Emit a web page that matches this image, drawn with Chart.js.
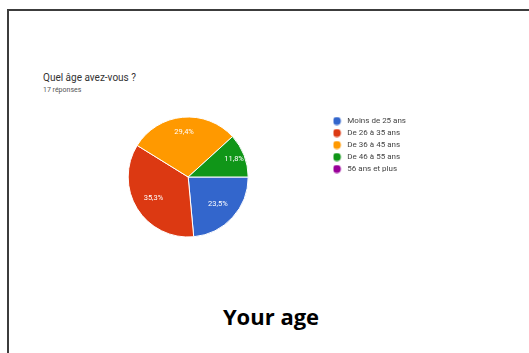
<!DOCTYPE html>
<html lang="fr">
<head>
    <meta charset="UTF-8">
    <title>Quel âge avez-vous ?</title>
    <script src="https://cdn.jsdelivr.net/npm/chart.js"></script>
    <style>
        body { margin: 0; width: 529px; height: 353px; overflow: hidden; background: #fff; font-family: Roboto, Arial, sans-serif; }
        #frame { position: absolute; left: 7px; top: 9px; right: 0; bottom: 0; border-left: 2px solid #3c3c3c; border-top: 2px solid #3c3c3c; }
        #question { position: absolute; left: 43px; top: 72px; font-size: 10px; color: #333; }
        #answers { position: absolute; left: 43px; top: 86px; font-size: 7px; color: #555; }
        #chartBox { position: absolute; left: 36px; top: 106px; width: 380px; height: 142px; }
        #caption { position: absolute; left: 0; width: 542px; top: 301px; text-align: center; font-family: "Open Sans", sans-serif; font-weight: bold; font-size: 22px; color: #000; }
    </style>
</head>
<body>
    <div id="frame"></div>
    <div id="question">Quel âge avez-vous ?</div>
    <div id="answers">17 réponses</div>
    <div id="chartBox"><canvas id="myChart"></canvas></div>
    <div id="caption">Your age</div>

    <script>
        // données
        const ageGroups = ["Moins de 25 ans", "De 26 à 35 ans", "De 36 à 45 ans", "De 46 à 55 ans", "56 ans et plus"];
        const answerCounts = [4, 6, 5, 2, 0];
        const sliceColors = ["#3366cc", "#dc3912", "#ff9900", "#109618", "#990099"];

        const total = answerCounts.reduce((a, b) => a + b, 0);

        // petit rond de légende, décalé à gauche pour laisser de l'espace avant le texte
        function dot(color) {
            const c = document.createElement("canvas");
            c.width = 16;
            c.height = 9;
            const g = c.getContext("2d");
            g.fillStyle = color;
            g.beginPath();
            g.arc(4.5, 4.5, 4, 0, Math.PI * 2);
            g.fill();
            return c;
        }

        // pourcentages écrits dans les parts
        const sliceLabels = {
            id: "sliceLabels",
            afterDatasetsDraw(chart, args, opts) {
                const ctx = chart.ctx;
                const meta = chart.getDatasetMeta(0);
                ctx.save();
                ctx.font = "7.5px Roboto";
                ctx.fillStyle = "#fff";
                ctx.textAlign = "center";
                ctx.textBaseline = "middle";
                meta.data.forEach((arc, i) => {
                    if (!answerCounts[i]) return;
                    const p = arc.getProps(["x", "y", "startAngle", "endAngle", "outerRadius"], true);
                    const mid = (p.startAngle + p.endAngle) / 2;
                    const r = p.outerRadius * opts.radii[i];
                    const txt = (answerCounts[i] / total * 100).toFixed(1).replace(".", ",") + "%";
                    ctx.fillText(txt, p.x + Math.cos(mid) * r, p.y + Math.sin(mid) * r);
                });
                ctx.restore();
            }
        };

        const ctx = document.getElementById("myChart").getContext("2d");
        const chart = new Chart(ctx, {
            type: "pie",
            data: {
                labels: ageGroups,
                datasets: [{
                    data: answerCounts,
                    backgroundColor: sliceColors,
                    borderColor: "#fff",
                    borderWidth: 1,
                    radius: 60
                }]
            },
            options: {
                responsive: true,
                maintainAspectRatio: false,
                animation: false,
                rotation: 90,
                layout: { padding: { top: 7, bottom: 7, left: 7, right: 0 } },
                plugins: {
                    tooltip: { enabled: false },
                    legend: {
                        position: "right",
                        align: "start",
                        labels: {
                            usePointStyle: true,
                            boxWidth: 6,
                            boxHeight: 6,
                            padding: 4,
                            color: "#444",
                            font: { family: "Roboto", size: 8 },
                            generateLabels(chart) {
                                const items = Chart.overrides.pie.plugins.legend.labels.generateLabels(chart);
                                items.forEach((it, i) => { it.pointStyle = dot(sliceColors[i]); });
                                return items;
                            }
                        }
                    },
                    sliceLabels: { radii: [0.67, 0.68, 0.75, 0.82, 0.7] }
                }
            },
            plugins: [sliceLabels]
        });
    </script>
</body>
</html>
